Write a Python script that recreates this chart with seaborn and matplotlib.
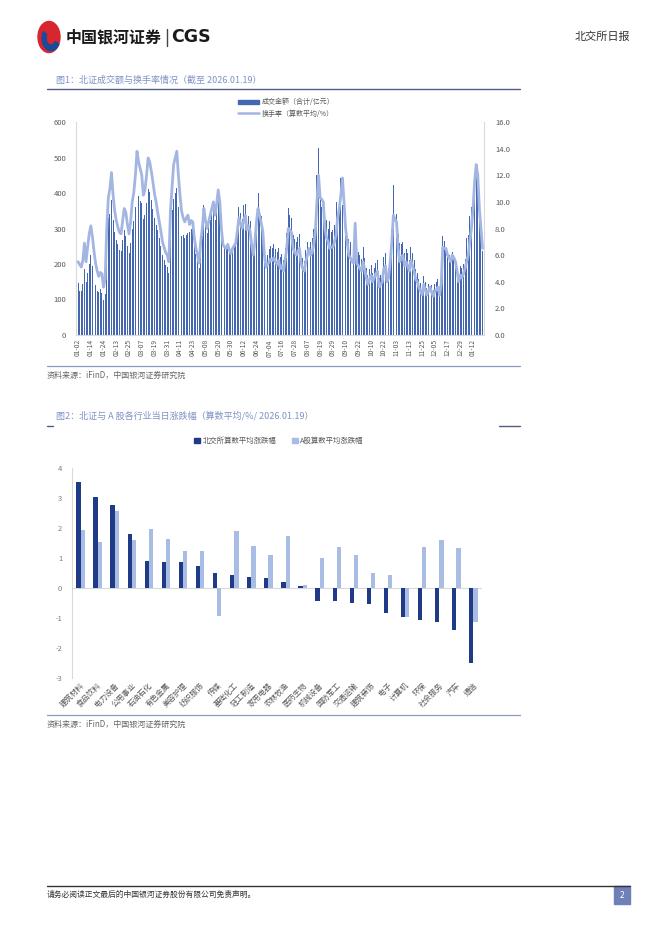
import numpy as np
import pandas as pd
import seaborn as sns
import matplotlib.pyplot as plt
from matplotlib.patches import Rectangle, Circle, Wedge
from matplotlib.lines import Line2D

# ---- chart 1: daily trading amount (100m CNY) and turnover (%) ----
amount = [
    146, 125, 125, 145, 185, 150, 175, 200, 225, 195,
    165, 140, 125, 120, 130, 118, 98, 115, 255, 330,
    340, 380, 325, 290, 268, 255, 240, 238, 268, 296,
    278, 250, 230, 258, 300, 322, 360, 415, 392, 378,
    372, 326, 338, 372, 412, 403, 381, 356, 330, 310,
    295, 272, 250, 224, 211, 198, 192, 176, 298, 352,
    384, 400, 414, 360, 315, 280, 282, 272, 282, 288,
    290, 300, 298, 255, 228, 210, 190, 245, 280, 366,
    310, 288, 306, 324, 342, 360, 324, 352, 392, 360,
    304, 258, 250, 247, 258, 243, 232, 247, 255, 262,
    320, 361, 345, 328, 367, 369, 324, 336, 320, 279,
    250, 285, 340, 400, 344, 335, 305, 258, 218, 225,
    242, 250, 246, 255, 242, 233, 246, 220, 229, 211,
    246, 286, 357, 338, 330, 282, 270, 262, 275, 284,
    235, 218, 208, 240, 262, 284, 262, 272, 298, 343,
    451, 527, 404, 361, 340, 333, 325, 300, 322, 290,
    295, 310, 376, 330, 361, 442, 366, 330, 290, 270,
    270, 262, 250, 245, 260, 245, 235, 225, 215, 248,
    216, 190, 168, 185, 198, 176, 190, 202, 212, 160,
    168, 176, 220, 230, 176, 190, 245, 300, 423, 330,
    340, 285, 259, 255, 262, 230, 242, 230, 210, 248,
    230, 212, 185, 176, 158, 146, 132, 165, 150, 132,
    145, 158, 140, 128, 145, 150, 158, 132, 165, 278,
    265, 240, 235, 225, 215, 235, 225, 215, 188, 172,
    195, 190, 200, 215, 272, 282, 335, 360, 432, 455,
    476, 441, 330, 300, 238]

turnover = [
    5.5, 5.3, 5.1, 5.6, 6.9, 5.5, 6.6, 7.6, 8.2, 7.4,
    6.3, 5.4, 4.8, 4.4, 4.7, 4.6, 3.6, 4.2, 8.0, 10.3,
    11.0, 12.2, 10.5, 9.3, 8.6, 8.1, 7.7, 7.6, 8.6, 9.5,
    9.2, 8.3, 7.6, 8.5, 10.0, 10.7, 12.0, 13.8, 13.0, 12.5,
    12.0, 10.5, 10.9, 12.0, 13.3, 13.0, 12.3, 11.5, 10.6, 10.0,
    9.2, 8.5, 7.8, 7.0, 6.6, 6.2, 6.0, 5.5, 9.3, 11.0,
    12.8, 13.3, 13.8, 12.0, 10.5, 9.3, 8.8, 8.5, 8.8, 9.0,
    8.3, 8.6, 8.5, 7.3, 6.5, 6.0, 5.4, 7.0, 8.0, 9.5,
    8.6, 8.0, 8.5, 9.0, 9.5, 10.0, 9.0, 9.8, 10.9, 10.0,
    8.0, 6.8, 6.6, 6.5, 6.8, 6.4, 6.1, 6.5, 6.7, 6.9,
    7.8, 8.8, 8.4, 8.0, 8.6, 9.0, 7.9, 8.2, 7.8, 6.8,
    6.0, 6.9, 8.5, 9.5, 9.0, 8.4, 7.8, 6.0, 5.1, 5.3,
    5.5, 5.7, 5.6, 5.8, 5.5, 5.3, 5.6, 5.0, 5.2, 4.8,
    5.6, 6.5, 8.0, 7.9, 7.7, 6.5, 6.2, 6.0, 6.3, 6.5,
    5.4, 5.0, 4.8, 5.5, 6.0, 6.5, 6.0, 6.2, 6.8, 7.8,
    10.0, 12.0, 10.3, 10.2, 10.0, 8.0, 7.3, 7.0, 6.5, 6.6,
    6.6, 7.0, 7.5, 8.8, 9.5, 10.5, 11.8, 10.0, 8.0, 7.0,
    6.0, 5.8, 5.5, 5.4, 8.4, 5.4, 5.2, 5.0, 4.8, 5.5,
    4.9, 4.3, 3.8, 4.2, 4.5, 4.0, 4.3, 4.6, 4.8, 3.6,
    3.8, 4.0, 5.0, 5.2, 4.0, 4.3, 5.5, 7.0, 9.0, 8.7,
    8.5, 6.5, 5.5, 5.8, 6.0, 5.2, 5.5, 5.2, 4.8, 5.6,
    5.2, 4.8, 4.2, 4.0, 3.6, 3.3, 3.0, 3.8, 3.4, 3.0,
    3.3, 3.6, 3.2, 2.9, 3.3, 3.4, 3.6, 3.0, 3.8, 6.6,
    6.5, 6.5, 6.0, 5.8, 5.5, 6.0, 5.8, 5.5, 4.8, 4.0,
    4.5, 4.3, 4.6, 5.0, 5.5, 6.0, 7.0, 8.0, 9.5, 11.5,
    12.8, 12.0, 9.5, 8.0, 6.5]

date_ticks = ["01-02", "01-14", "01-24", "02-13", "02-25", "03-07", "03-19", "03-31",
              "04-11", "04-23", "05-08", "05-20", "05-30", "06-12", "06-24", "07-04",
              "07-16", "07-28", "08-07", "08-19", "08-29", "09-10", "09-22", "10-10",
              "10-22", "11-03", "11-13", "11-25", "12-05", "12-17", "12-29", "01-12"]

# ---- chart 2: industry daily change (%) ----
industries = ["建筑材料", "食品饮料", "电力设备", "公用事业", "石油石化", "有色金属",
              "美容护理", "纺织服饰", "传媒", "基础化工", "轻工制造", "家用电器",
              "农林牧渔", "医药生物", "机械设备", "国防军工", "交通运输", "建筑装饰",
              "电子", "计算机", "环保", "社会服务", "汽车", "通信"]
bj_change = [3.56, 3.03, 2.77, 1.81, 0.92, 0.87, 0.87, 0.76, 0.50, 0.44, 0.39, 0.34,
             0.20, 0.08, -0.41, -0.41, -0.48, -0.52, -0.83, -0.94, -1.06, -1.12, -1.38, -2.48]
a_change = [1.94, 1.56, 2.57, 1.61, 1.98, 1.63, 1.23, 1.24, -0.92, 1.92, 1.41, 1.11,
            1.74, 0.11, 1.02, 1.37, 1.11, 0.52, 0.43, -0.95, 1.39, 1.60, 1.36, -1.12]
series_names = ["北交所算数平均涨跌幅", "A股算数平均涨跌幅"]

BAR1 = "#4467b2"
LINE1 = "#a3b6e2"
DARK2 = "#1f3b88"
LIGHT2 = "#a9bce3"
TITLE_C = "#7e92c4"
GRAY = "#595959"
AXC = "#d9d9d9"

sns.set_style("white")
plt.rcParams['font.family'] = ['Noto Sans CJK SC', 'DejaVu Sans']
plt.rcParams['axes.unicode_minus'] = False

W, H = 662, 936
fig = plt.figure(figsize=(W / 100, H / 100), dpi=100)


def fx(px):
    return px / W


def fy(py):
    return 1 - py / H


def hline(x0, x1, y, color, lw=1.0):
    fig.add_artist(Line2D([fx(x0), fx(x1)], [fy(y), fy(y)], color=color, lw=lw,
                          transform=fig.transFigure))


# ---- page header ----
fig.add_artist(Circle((fx(49), fy(37)), 11 / W, transform=fig.transFigure,
                      color="#d7262e", zorder=3))
fig.add_artist(Wedge((fx(51), fy(38)), 9 / W, 150, 330, width=4 / W,
                     transform=fig.transFigure, color="#1b4a9c", zorder=4))
fig.text(fx(66), fy(37), "中国银河证券", fontsize=11.5, fontweight="bold",
         color="#1a1a1a", va="center", ha="left")
fig.add_artist(Line2D([fx(167), fx(167)], [fy(29), fy(46)], color="#444444", lw=1.0,
                      transform=fig.transFigure))
fig.text(fx(171), fy(37.5), "CGS", fontsize=12.5, fontweight="bold",
         color="#1a1a1a", va="center", ha="left", family="DejaVu Sans")
fig.text(fx(630), fy(37), "北交所日报", fontsize=8, color="#333333", va="center", ha="right")

# ---- chart 1 ----
fig.text(fx(56), fy(80), "图1：北证成交额与换手率情况（截至 2026.01.19）",
         fontsize=6.5, color=TITLE_C, va="center", ha="left")
hline(47, 520, 89, "#4f5d85", 1.0)

days = np.arange(len(amount))
ax1 = fig.add_axes([fx(76), fy(335), fx(484 - 76), (335 - 122) / H])
sns.barplot(x=days, y=amount, ax=ax1, color=BAR1, width=0.6, saturation=1,
            native_scale=True, linewidth=0, edgecolor="none")
ax1.set_xlim(-1.3, 254.9)
ax1.set_ylim(0, 600)
ax1.set_yticks(range(0, 601, 100))
ax1.set_xticks(days[::8])
ax1.set_xticklabels(date_ticks, rotation=90, fontsize=4.8, color=GRAY)
ax1.tick_params(axis="y", labelsize=5.5, labelcolor=GRAY, length=0, pad=7)
ax1.tick_params(axis="x", length=0, pad=3)
ax1.set_xlabel("")
ax1.set_ylabel("")
for s in ["top", "right"]:
    ax1.spines[s].set_visible(False)
for s in ["left", "bottom"]:
    ax1.spines[s].set_color(AXC)
    ax1.spines[s].set_linewidth(0.8)

ax1r = ax1.twinx()
sns.lineplot(x=days, y=turnover, ax=ax1r, color=LINE1, linewidth=2.0)
ax1r.set_ylim(0, 16)
ax1r.set_yticks(np.arange(0, 16.1, 2))
ax1r.set_yticklabels([f"{v:.1f}" for v in np.arange(0, 16.1, 2)])
ax1r.tick_params(axis="y", labelsize=5.5, labelcolor=GRAY, length=0, pad=8)
ax1r.set_ylabel("")
for s in ["top", "left", "bottom"]:
    ax1r.spines[s].set_visible(False)
ax1r.spines["right"].set_color(AXC)
ax1r.spines["right"].set_linewidth(0.8)

h1 = [Rectangle((0, 0), 1, 1, color=BAR1), Line2D([0], [0], color=LINE1, lw=1.8)]
fig.legend(h1, ["成交金额（合计/亿元）", "换手率（算数平均/%）"], loc="center",
           bbox_to_anchor=(fx(286), fy(108)), ncol=1, frameon=False, fontsize=5,
           handlelength=3.0, handleheight=0.6, labelspacing=0.5, handletextpad=0.4,
           labelcolor=GRAY)

hline(47, 520, 366, "#8c9bbb", 0.9)
fig.text(fx(47), fy(375), "资料来源：iFinD，中国银河证券研究院", fontsize=5.8,
         color="#666666", style="italic", va="center", ha="left")

# ---- chart 2 ----
fig.text(fx(56), fy(416), "图2：北证与 A 股各行业当日涨跌幅（算数平均/%/ 2026.01.19）",
         fontsize=6.5, color=TITLE_C, va="center", ha="left")
hline(47, 53, 426, "#4f5d85", 1.0)
hline(499, 520, 426, "#4f5d85", 1.0)

df2 = pd.DataFrame({
    "industry": industries + industries,
    "series": [series_names[0]] * len(industries) + [series_names[1]] * len(industries),
    "value": bj_change + a_change,
})
ax2 = fig.add_axes([fx(72), fy(678.3), fx(482 - 72), 210 / H])
sns.barplot(data=df2, x="industry", y="value", hue="series", palette=[DARK2, LIGHT2],
            width=0.5, saturation=1, ax=ax2, legend=False, linewidth=0,
            edgecolor="none")
ax2.set_ylim(-3, 4)
ax2.set_yticks(range(-3, 5))
ax2.set_xlim(-0.5, len(industries) - 0.5)
ax2.axhline(0, color=AXC, lw=0.8, zorder=0)
ax2.set_xlabel("")
ax2.set_ylabel("")
ax2.tick_params(axis="y", labelsize=5.5, labelcolor="#7f7f7f", length=0, pad=7)
ax2.tick_params(axis="x", labelsize=5.5, labelcolor=GRAY, length=0, pad=2)
plt.setp(ax2.get_xticklabels(), rotation=45, ha="right", rotation_mode="anchor")
for s in ["top", "right", "bottom"]:
    ax2.spines[s].set_visible(False)
ax2.spines["left"].set_color(AXC)
ax2.spines["left"].set_linewidth(0.8)

h2 = [Rectangle((0, 0), 1, 1, color=DARK2), Rectangle((0, 0), 1, 1, color=LIGHT2)]
fig.legend(h2, series_names, loc="center", bbox_to_anchor=(fx(279), fy(441)), ncol=2,
           frameon=False, fontsize=5.3, handlelength=0.8, handleheight=0.8,
           handletextpad=0.3, columnspacing=2.2, labelcolor=GRAY)

hline(47, 520, 715, "#8c9bbb", 0.9)
fig.text(fx(47), fy(724), "资料来源：iFinD，中国银河证券研究院", fontsize=5.8,
         color="#666666", style="italic", va="center", ha="left")

# ---- footer ----
hline(47, 630, 886, "#333333", 1.0)
fig.text(fx(47), fy(895), "请务必阅读正文最后的中国银河证券股份有限公司免责声明。",
         fontsize=5.6, color="#333333", va="center", ha="left")
fig.add_artist(Rectangle((fx(614), fy(904)), 16 / W, 18 / H, transform=fig.transFigure,
                         color="#6d80b8"))
fig.text(fx(622), fy(895), "2", fontsize=6, color="white", va="center", ha="center")

fig.savefig("out.png", dpi=100)
